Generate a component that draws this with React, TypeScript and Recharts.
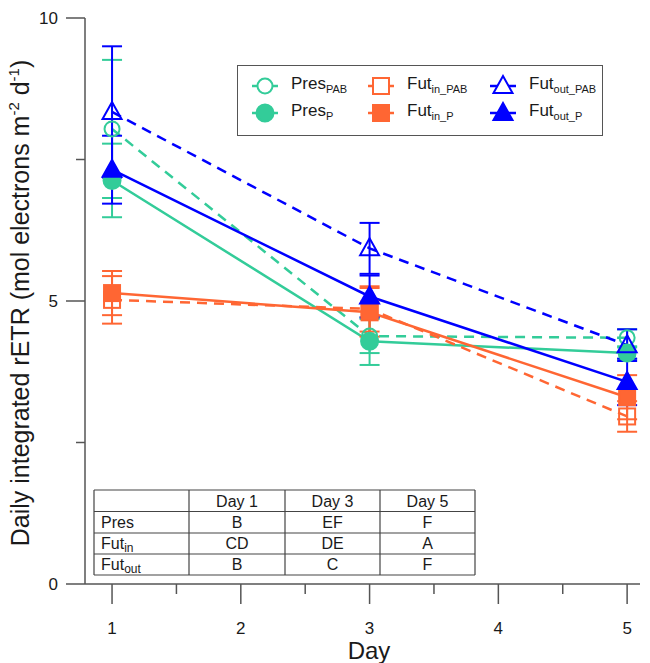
import React from 'react';
import { ComposedChart, Line, XAxis, YAxis, ErrorBar, Legend, Customized } from 'recharts';

// ---------- data ----------
const days = [1, 3, 5];
const presPAB = [8.04, 4.38, 4.35];
const presPABErr = [1.22, 0.3, 0.15];
const presP = [7.13, 4.29, 4.08];
const presPErr = [0.65, 0.42, 0.1];
const futInPAB = [5.02, 4.86, 2.96];
const futInPABErr = [0.42, 0.4, 0.27];
const futInP = [5.14, 4.8, 3.3];
const futInPErr = [0.39, 0.43, 0.39];
const futOutPAB = [8.34, 5.93, 4.22];
const futOutPABErr = [1.16, 0.45, 0.28];
const futOutP = [7.32, 5.08, 3.57];
const futOutPErr = [0.6, 0.37, 0.41];

const xTicks = [1, 1.5, 2, 2.5, 3, 3.5, 4, 4.5, 5];
const yTicks = [0, 2.5, 5, 7.5, 10];

const tableHeader = ['', 'Day 1', 'Day 3', 'Day 5'];
const tableRowNames = [
  { main: 'Pres', sub: '' },
  { main: 'Fut', sub: 'in' },
  { main: 'Fut', sub: 'out' },
];
const tableLetters = [
  ['B', 'EF', 'F'],
  ['CD', 'DE', 'A'],
  ['B', 'C', 'F'],
];

// ---------- styles ----------
const GREEN = '#33CC99';
const ORANGE = '#FF6633';
const BLUE = '#0000FF';
const AXIS = '#555555';
const TEXT = '#1a1a1a';
const FONT = '"Liberation Sans", Arial, sans-serif';

const data = days.map((d, i) => ({
  day: d,
  presPAB: presPAB[i],
  presPABErr: presPABErr[i],
  presP: presP[i],
  presPErr: presPErr[i],
  futInPAB: futInPAB[i],
  futInPABErr: futInPABErr[i],
  futInP: futInP[i],
  futInPErr: futInPErr[i],
  futOutPAB: futOutPAB[i],
  futOutPABErr: futOutPABErr[i],
  futOutP: futOutP[i],
  futOutPErr: futOutPErr[i],
}));

type Shape = 'circle' | 'square' | 'triangle';

function Marker({ cx, cy, shape, filled, color, legend }: { cx: number; cy: number; shape: Shape; filled: boolean; color: string; legend?: boolean }) {
  const fill = filled ? color : legend ? '#fff' : 'none';
  if (shape === 'circle') {
    return <circle cx={cx} cy={cy} r={filled ? 8.5 : 7.5} fill={fill} stroke={color} strokeWidth={2} />;
  }
  if (shape === 'square') {
    return <rect x={cx - 8} y={cy - 8} width={16} height={16} fill={fill} stroke={color} strokeWidth={2} />;
  }
  const pts = `${cx},${cy - 10} ${cx - 9.5},${cy + 7} ${cx + 9.5},${cy + 7}`;
  return <polygon points={pts} fill={fill} stroke={color} strokeWidth={2} strokeLinejoin="miter" />;
}

const series = [
  { key: 'presPAB', err: 'presPABErr', color: GREEN, shape: 'circle' as Shape, filled: false, dashed: true, label: 'Pres', sub: 'PAB', col: 0, row: 0 },
  { key: 'presP', err: 'presPErr', color: GREEN, shape: 'circle' as Shape, filled: true, dashed: false, label: 'Pres', sub: 'P', col: 0, row: 1 },
  { key: 'futInPAB', err: 'futInPABErr', color: ORANGE, shape: 'square' as Shape, filled: false, dashed: true, label: 'Fut', sub: 'in_PAB', col: 1, row: 0 },
  { key: 'futInP', err: 'futInPErr', color: ORANGE, shape: 'square' as Shape, filled: true, dashed: false, label: 'Fut', sub: 'in_P', col: 1, row: 1 },
  { key: 'futOutPAB', err: 'futOutPABErr', color: BLUE, shape: 'triangle' as Shape, filled: false, dashed: true, label: 'Fut', sub: 'out_PAB', col: 2, row: 0 },
  { key: 'futOutP', err: 'futOutPErr', color: BLUE, shape: 'triangle' as Shape, filled: true, dashed: false, label: 'Fut', sub: 'out_P', col: 2, row: 1 },
];

function XTick(props: any) {
  const { x, y, payload } = props;
  const major = Number.isInteger(payload.value);
  return (
    <g>
      <line x1={x} x2={x} y1={y} y2={y + (major ? 20 : 10)} stroke={AXIS} strokeWidth={1.5} />
      {major && (
        <text x={x} y={y + 50} textAnchor="middle" fontSize={17} fill={TEXT} fontFamily={FONT}>
          {payload.value}
        </text>
      )}
    </g>
  );
}

function YTick(props: any) {
  const { x, y, payload } = props;
  const major = payload.value % 5 === 0;
  return (
    <g>
      <line x1={x - (major ? 19 : 9)} x2={x} y1={y} y2={y} stroke={AXIS} strokeWidth={1.5} />
      {major && (
        <text x={x - 27} y={y} dy="0.36em" textAnchor="end" fontSize={17} fill={TEXT} fontFamily={FONT}>
          {payload.value}
        </text>
      )}
    </g>
  );
}

function LegendBox() {
  const colX = [13, 129, 251];
  const rowY = [20, 47];
  return (
    <div
      style={{
        width: 366,
        height: 71,
        border: '1.5px solid #555',
        boxSizing: 'border-box',
        background: '#fff',
        position: 'relative',
        fontFamily: FONT,
        color: TEXT,
      }}
    >
      {series.map((s) => (
        <div
          key={s.key}
          style={{
            position: 'absolute',
            left: colX[s.col],
            top: rowY[s.row] - 12,
            height: 24,
            display: 'flex',
            alignItems: 'center',
            whiteSpace: 'nowrap',
          }}
        >
          <svg width={28} height={24} style={{ display: 'block' }}>
            <line x1={1} x2={27} y1={12} y2={12} stroke={s.color} strokeWidth={2.5} />
            <Marker cx={14} cy={12} shape={s.shape} filled={s.filled} color={s.color} legend />
          </svg>
          <span style={{ marginLeft: 12, fontSize: 17, lineHeight: '24px' }}>
            {s.label}
            <sub style={{ fontSize: 11, verticalAlign: '-4px' }}>{s.sub}</sub>
          </span>
        </div>
      ))}
    </div>
  );
}

function Annotations() {
  const left = 94;
  const top = 490;
  const colEdges = [94, 189, 285, 380, 475];
  const rowEdges = [490, 511.5, 533, 554, 575];
  const lines: React.ReactNode[] = [];
  rowEdges.forEach((ry, i) =>
    lines.push(<line key={'r' + i} x1={colEdges[0]} x2={colEdges[4]} y1={ry} y2={ry} stroke="#444" strokeWidth={1.2} />)
  );
  colEdges.forEach((cx, i) =>
    lines.push(<line key={'c' + i} x1={cx} x2={cx} y1={rowEdges[0]} y2={rowEdges[4]} stroke="#444" strokeWidth={1.2} />)
  );
  const texts: React.ReactNode[] = [];
  tableHeader.forEach((h, j) => {
    if (!h) return;
    texts.push(
      <text key={'h' + j} x={(colEdges[j] + colEdges[j + 1]) / 2} y={(rowEdges[0] + rowEdges[1]) / 2} dy="0.36em" textAnchor="middle" fontSize={16} fill={TEXT} fontFamily={FONT}>
        {h}
      </text>
    );
  });
  tableRowNames.forEach((r, i) => {
    const cy = (rowEdges[i + 1] + rowEdges[i + 2]) / 2;
    texts.push(
      <text key={'n' + i} x={left + 7} y={cy} dy="0.36em" fontSize={16} fill={TEXT} fontFamily={FONT}>
        {r.main}
        {r.sub && (
          <tspan fontSize={12} dy={3}>
            {r.sub}
          </tspan>
        )}
      </text>
    );
    tableLetters[i].forEach((v, j) => {
      texts.push(
        <text key={'v' + i + j} x={(colEdges[j + 1] + colEdges[j + 2]) / 2} y={cy} dy="0.36em" textAnchor="middle" fontSize={16} fill={TEXT} fontFamily={FONT}>
          {v}
        </text>
      );
    });
  });
  return (
    <g>
      <rect x={left} y={top} width={colEdges[4] - left} height={rowEdges[4] - top} fill="#fff" />
      {lines}
      {texts}
      <text x={369} y={659} textAnchor="middle" fontSize={24} fill={TEXT} fontFamily={FONT}>
        Day
      </text>
      <text x={29} y={303} transform="rotate(-90, 29, 303)" textAnchor="middle" fontSize={25} fill={TEXT} fontFamily={FONT}>
        Daily integrated rETR (mol electrons m
        <tspan fontSize={15} dy={-10}>
          -2
        </tspan>
        <tspan dy={10}> d</tspan>
        <tspan fontSize={15} dy={-10}>
          -1
        </tspan>
        <tspan dy={10}>)</tspan>
      </text>
    </g>
  );
}

export default function App() {
  return (
    <div style={{ position: 'absolute', left: 0, top: 0, width: 650, height: 663, background: '#fff' }}>
      <ComposedChart width={650} height={663} data={data} margin={{ top: 18, right: 10, bottom: 0, left: 0 }}>
        <Customized component={Annotations} />
        <XAxis
          dataKey="day"
          type="number"
          domain={[0.79, 5.1]}
          ticks={xTicks}
          interval={0}
          height={79}
          tickSize={0}
          tickMargin={0}
          tick={<XTick />}
          axisLine={{ stroke: AXIS, strokeWidth: 1.5 }}
          tickLine={false}
          allowDataOverflow
        />
        <YAxis
          type="number"
          domain={[0, 10]}
          ticks={yTicks}
          interval={0}
          width={85}
          tickSize={0}
          tickMargin={0}
          tick={<YTick />}
          axisLine={{ stroke: AXIS, strokeWidth: 1.5 }}
          tickLine={false}
          allowDataOverflow
        />
        {series.map((s) => (
          <Line
            key={s.key}
            dataKey={s.key}
            type="linear"
            stroke={s.color}
            strokeWidth={2.5}
            strokeDasharray={s.dashed ? '10 7' : undefined}
            isAnimationActive={false}
            legendType="none"
            dot={(p: any) => <Marker key={p.key ?? `${s.key}-${p.index}`} cx={p.cx} cy={p.cy} shape={s.shape} filled={s.filled} color={s.color} />}
            activeDot={false}
          >
            <ErrorBar dataKey={s.err} width={10} strokeWidth={2} stroke={s.color} direction="y" isAnimationActive={false} />
          </Line>
        ))}
        <Legend
          verticalAlign="middle"
          align="center"
          wrapperStyle={{ left: 237, top: 65, width: 366, height: 71 }}
          content={() => <LegendBox />}
        />
      </ComposedChart>
    </div>
  );
}
